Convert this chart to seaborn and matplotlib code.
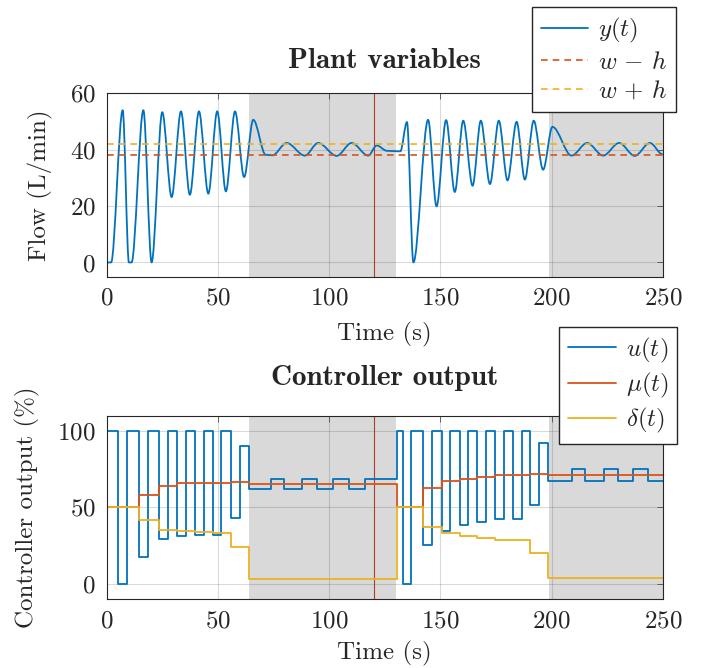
import matplotlib
matplotlib.use("Agg")
import matplotlib.pyplot as plt
from matplotlib.path import Path
from matplotlib.patches import PathPatch
from matplotlib.lines import Line2D
import seaborn as sns

# plant output y(t): turning points (time, value)
y_t = [0, 2.0, 7.2, 10.0, 11.2, 16.5, 20.2, 25.0, 29.2, 33.4, 37.4, 41.5, 45.7,
       49.7, 53.6, 57.7, 61.8, 65.9, 71.5, 74.5, 80.9, 89.1, 95.1, 103.4, 110.1,
       117.6, 121.4, 126.0, 132.0, 135.0, 137.9, 144.5, 148.3, 152.6, 156.5,
       160.3, 164.5, 168.2, 172.3, 176.3, 180.2, 184.3, 188.0, 192.0, 196.2,
       200.4, 209.0, 216.0, 223.2, 230.4, 237.4, 244.2, 250.0]
y_v = [0, 0, 54.0, 0, 0, 54.0, 0, 53.3, 23.2, 53.6, 24.0, 53.6, 24.4,
       53.6, 25.2, 53.6, 30.3, 50.6, 38.2, 38.0, 42.4, 37.9, 42.4, 37.8, 42.4,
       37.9, 41.5, 39.6, 39.4, 49.8, 0, 50.6, 19.9, 50.5, 25.0,
       50.3, 27.2, 50.3, 27.8, 50.3, 29.1, 49.9, 29.4, 50.3, 32.9,
       48.1, 37.9, 42.4, 37.9, 42.4, 37.8, 42.4, 38.3]

# setpoint and hysteresis
w = 40
h = 2

# controller output u(t): switching times and levels
u_t = [0, 5.2, 9.0, 14.5, 18.4, 23.7, 27.4, 31.5, 35.5, 39.7, 43.6, 47.9, 51.5,
       55.7, 59.9, 64.0, 73.7, 79.8, 87.6, 94.4, 101.6, 108.8, 116.0, 130.4,
       133.0, 136.6, 142.3, 146.1, 150.6, 154.3, 158.8, 162.5, 166.6, 170.5,
       174.7, 178.6, 182.5, 186.5, 190.2, 194.4, 198.5, 209.0, 215.0, 223.5,
       229.7, 236.4, 243.4, 250.0]
u_v = [100, 0, 100, 17.5, 100, 29.5, 100, 31.0, 100, 32.2, 100, 32.2, 100,
       43.1, 90.2, 62.2, 68.9, 62.2, 68.9, 62.2, 68.9, 62.2, 68.9, 100,
       0, 100, 25.6, 100, 34.8, 100, 38.7, 100, 40.3, 100,
       42.5, 100, 42.1, 100, 51.4, 91.9, 67.6, 74.9, 67.6, 74.9,
       67.6, 74.9, 67.6, 67.6]

# bias mu(t) and amplitude delta(t), updated at the same instants
md_t = [0, 14.5, 23.7, 31.5, 39.7, 47.9, 55.7, 64.0, 130.4, 142.3, 150.6,
        158.8, 166.6, 174.7, 182.5, 190.2, 198.5, 250.0]
mu_v = [50, 58.4, 64.3, 65.7, 66.1, 66.3, 66.8, 65.5, 50, 62.4, 67.2,
        68.7, 69.8, 70.9, 71.0, 72.0, 71.2, 71.2]
delta_v = [50, 42.0, 35.5, 34.4, 33.7, 33.5, 24.1, 3.3, 50, 37.2, 33.3,
           31.1, 30.0, 28.9, 28.4, 20.1, 3.7, 3.7]

# shaded intervals and marker time
shade_start = [64, 199]
shade_end = [130, 250]
t_mark = 120

blue, orange, yellow = "#0072BD", "#D95319", "#EDB120"

sns.set_style("white")
plt.rcParams["font.family"] = "serif"
plt.rcParams["font.serif"] = ["cmr10"]
plt.rcParams["mathtext.fontset"] = "cm"
plt.rcParams["axes.formatter.use_mathtext"] = True
plt.rcParams["font.size"] = 18

fig, (ax1, ax2) = plt.subplots(2, 1, figsize=(7.05, 6.68), dpi=100)
fig.subplots_adjust(left=0.1513, right=0.9401, top=0.8603, bottom=0.1033, hspace=0.76)


def smooth_path(ts, vs):
    # curve through turning points with flat tangents at each of them
    verts = [(ts[0], vs[0])]
    codes = [Path.MOVETO]
    for t0, v0, t1, v1 in zip(ts[:-1], vs[:-1], ts[1:], vs[1:]):
        d = (t1 - t0) / 3
        verts += [(t0 + d, v0), (t1 - d, v1), (t1, v1)]
        codes += [Path.CURVE4] * 3
    return Path(verts, codes)


legend_kw = dict(loc="upper right", bbox_transform=fig.transFigure, borderaxespad=0,
                 fancybox=False, framealpha=1, edgecolor="0.15", handlelength=1.9,
                 handletextpad=0.4, labelspacing=0.25, borderpad=0.35, fontsize=18)

for ax in (ax1, ax2):
    for a, b in zip(shade_start, shade_end):
        ax.axvspan(a, b, color="#d9d9d9", lw=0, zorder=0.2)
    ax.axvline(t_mark, color="#b03a2e", lw=0.8, zorder=1.5)
    ax.set_axisbelow(True)
    ax.grid(True, color="0.15", alpha=0.17, lw=0.8)
    ax.set_xlim(0, 250)
    ax.set_xticks([0, 50, 100, 150, 200, 250])
    ax.tick_params(direction="in", length=4, width=0.6, top=True, right=True,
                   color="0.3", labelsize=18, pad=8)
    for s in ax.spines.values():
        s.set_color("0.15")
        s.set_linewidth(0.8)

# plant variables
ax1.add_patch(PathPatch(smooth_path(y_t, y_v), fill=False, edgecolor=blue,
                        lw=1.3, joinstyle="round", zorder=2))
ax1.axhline(w - h, color=orange, lw=1.2, dashes=(4, 3), zorder=2.1)
ax1.axhline(w + h, color=yellow, lw=1.2, dashes=(4, 3), zorder=2.1)
ax1.set_ylim(-5, 60)
ax1.set_yticks([0, 20, 40, 60])
ax1.set_xlabel("Time (s)", labelpad=9)
ax1.set_ylabel("Flow (L/min)", labelpad=12)
ax1.set_title("Plant variables", fontfamily="cmb10", fontsize=21, pad=18)
handles = [Line2D([], [], color=blue, lw=1.3),
           Line2D([], [], color=orange, lw=1.2, dashes=(4, 3)),
           Line2D([], [], color=yellow, lw=1.2, dashes=(4, 3))]
ax1.legend(handles, [r"$y(t)$", r"$w\,-\,h$", r"$w\,+\,h$"],
           bbox_to_anchor=(0.9589, 0.989), **legend_kw)

# controller output
sns.lineplot(x=u_t, y=u_v, ax=ax2, color=blue, lw=1.3, drawstyle="steps-post",
             estimator=None, label="$u(t)$", zorder=2)
sns.lineplot(x=md_t, y=mu_v, ax=ax2, color=orange, lw=1.3, drawstyle="steps-post",
             estimator=None, label=r"$\mu(t)$", zorder=2.1)
sns.lineplot(x=md_t, y=delta_v, ax=ax2, color=yellow, lw=1.3, drawstyle="steps-post",
             estimator=None, label=r"$\delta(t)$", zorder=2.2)
ax2.set_ylim(-10, 110)
ax2.set_yticks([0, 50, 100])
ax2.set_xlabel("Time (s)", labelpad=6)
ax2.set_ylabel("Controller output (%)", labelpad=12)
ax2.set_title("Controller output", fontfamily="cmb10", fontsize=21, pad=22)
ax2.legend(bbox_to_anchor=(0.9607, 0.5109), **legend_kw)

fig.savefig("out.png", dpi=100)
